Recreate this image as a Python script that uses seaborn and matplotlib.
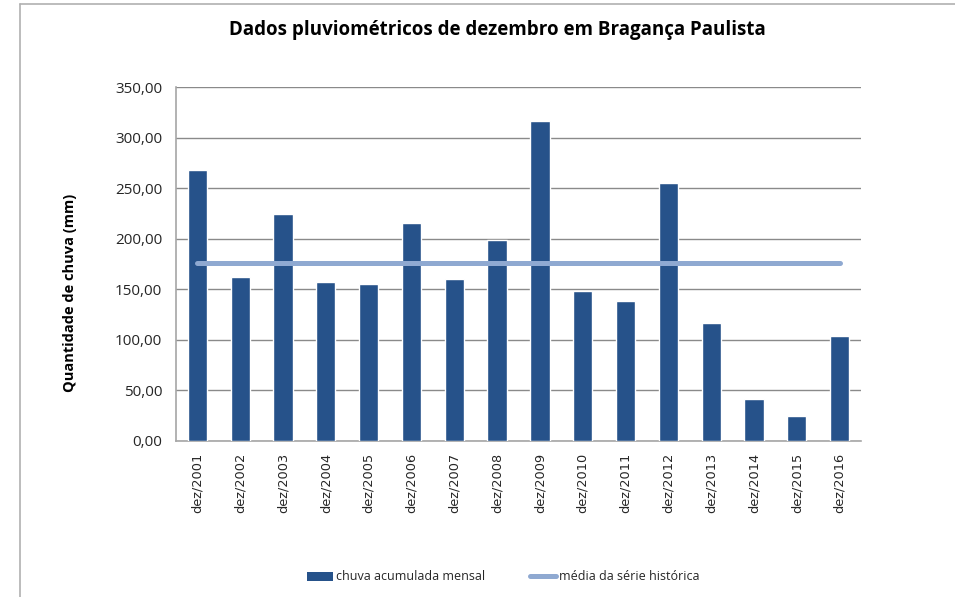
import matplotlib
matplotlib.use("Agg")
import matplotlib.pyplot as plt
import seaborn as sns
import numpy as np
from matplotlib.lines import Line2D
from matplotlib.patches import Patch
from matplotlib.ticker import FuncFormatter

categorias = ["dez/2001", "dez/2002", "dez/2003", "dez/2004", "dez/2005", "dez/2006",
              "dez/2007", "dez/2008", "dez/2009", "dez/2010", "dez/2011", "dez/2012",
              "dez/2013", "dez/2014", "dez/2015", "dez/2016"]
chuva = [267.5, 162.5, 224.0, 157.0, 155.0, 216.0, 160.0, 198.5, 316.0,
         148.0, 138.0, 255.5, 116.5, 41.5, 24.5, 103.5]
media = [175.8, 175.8, 175.8, 175.8, 175.8, 175.8, 175.8, 175.8, 175.8,
         175.8, 175.8, 175.8, 175.8, 175.8, 175.8, 175.8]
yticks = [0, 50, 100, 150, 200, 250, 300, 350]

sns.set_theme(style="white")
plt.rcParams["font.family"] = ["Open Sans", "DejaVu Sans"]

bar_color = "#26528A"
line_color = "#8FA9D1"

fig = plt.figure(figsize=(9.55, 5.97), dpi=100)
ax = fig.add_axes([176 / 955, 1 - 441 / 597, (861 - 176) / 955, (441 - 87) / 597])

x = np.arange(len(categorias))
sns.barplot(x=x, y=chuva, color=bar_color, saturation=1, width=0.45, ax=ax, zorder=3)
sns.lineplot(x=x, y=media, color=line_color, linewidth=3.6, ax=ax, zorder=4,
             solid_capstyle="round")

ax.set_xlim(-0.5, len(categorias) - 0.5)
ax.set_ylim(0, 350)
ax.set_yticks(yticks)
ax.yaxis.set_major_formatter(FuncFormatter(lambda v, p: f"{v:.2f}".replace(".", ",")))
ax.set_xticks(x)
ax.set_xticklabels(categorias, rotation=90, fontfamily=["DejaVu Sans"], fontsize=9.3,
                   va="top", ha="center")
ax.tick_params(axis="y", length=0, pad=10, labelsize=11, colors="#262626")
ax.tick_params(axis="x", length=0, pad=8.5, colors="#262626")
ax.grid(axis="y", color="#8a8a8a", linewidth=1.0, zorder=0)
ax.set_axisbelow(True)
for s in ["top", "right"]:
    ax.spines[s].set_visible(False)
for s in ["left", "bottom"]:
    ax.spines[s].set_color("#a6a6a6")
    ax.spines[s].set_linewidth(1.2)
ax.set_xlabel("")
ax.set_ylabel("")

fig.text(497 / 955, 1 - 30 / 597, "Dados pluviométricos de dezembro em Bragança Paulista",
         ha="center", va="center", fontsize=13.5, fontweight="bold", color="black")
fig.text(70 / 955, 1 - 293 / 597, "Quantidade de chuva (mm)", rotation=90,
         ha="center", va="center", fontsize=10.5, fontweight="bold", color="black")

handles = [Patch(facecolor=bar_color, edgecolor="none"),
           Line2D([0], [0], color=line_color, linewidth=3.6)]
fig.legend(handles, ["chuva acumulada mensal", "média da série histórica"],
           loc="center", bbox_to_anchor=(503 / 955, 1 - 577 / 597), ncol=2,
           frameon=False, fontsize=9, handlelength=2.1, handletextpad=0.2,
           columnspacing=3.6)

# chart frame
fig.add_artist(Line2D([20 / 955, 20 / 955], [0, 1 - 4 / 597], transform=fig.transFigure,
                      color="#b0b0b0", linewidth=1.2))
fig.add_artist(Line2D([20 / 955, 1], [1 - 4 / 597, 1 - 4 / 597], transform=fig.transFigure,
                      color="#b0b0b0", linewidth=1.2))

fig.savefig("out.png", dpi=100)
